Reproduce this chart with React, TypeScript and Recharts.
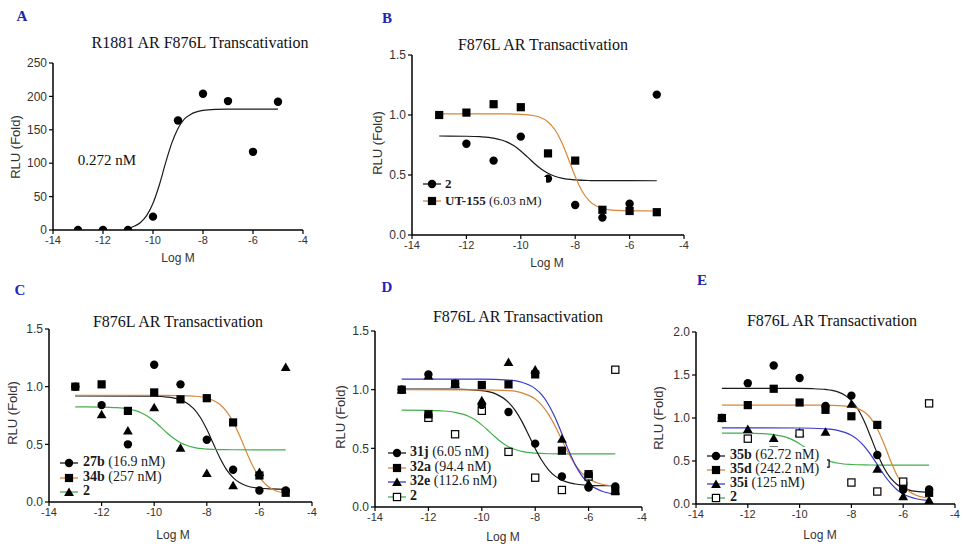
import React from 'react';
import { ComposedChart, Line, Scatter, XAxis, YAxis } from 'recharts';

// ---------- data ----------
const LOG_M = [-13, -12, -11, -10, -9, -8, -7, -6, -5];
const X_TICKS = [-14, -12, -10, -8, -6, -4];
const A_Y_TICKS = [0, 50, 100, 150, 200, 250];
const FOLD_TICKS = [0, 0.5, 1.0, 1.5];
const E_Y_TICKS = [0, 0.5, 1.0, 1.5, 2.0];

// measured points (aligned with LOG_M, null = no point)
const R1881 = [0, 0, 0, 20, 164, 204, 193, 117, 192];
const CMPD_2 = [null, 0.76, 0.62, 0.82, 0.47, 0.25, 0.145, 0.26, 1.17];
const UT155 = [1.0, 1.02, 1.09, 1.065, 0.68, 0.62, 0.21, 0.2, 0.19];
const C27B = [1.0, 0.84, 0.5, 1.19, 1.02, 0.54, 0.28, 0.1, 0.1];
const C34B = [1.0, 1.02, 0.79, 0.95, 0.89, 0.9, 0.69, 0.23, 0.08];
const C31J = [1.0, 1.13, 1.05, 0.87, 0.81, 0.54, 0.26, 0.165, 0.175];
const C32A = [1.0, 0.79, 1.05, 1.04, 1.045, 1.13, 0.48, 0.28, 0.135];
const C32E = [1.0, 1.12, 1.05, 0.91, 1.235, 1.17, 0.58, 0.2, 0.14];
const C35B = [1.0, 1.405, 1.61, 1.465, 1.14, 1.26, 0.57, 0.165, 0.17];
const C35D = [1.0, 1.15, 1.34, 1.18, 1.095, 1.02, 0.92, 0.21, 0.13];
const C35I = [1.0, 0.87, 0.765, 0.83, 0.84, 1.165, 0.41, 0.09, 0.045];

// fitted curves: [logM, value]
const FIT_R1881: [number, number][] = [[-11, 2.7], [-10.75, 5.6], [-10.5, 11.2], [-10.25, 21.8], [-10, 40], [-9.75, 67], [-9.5, 100], [-9.25, 130], [-9, 152], [-8.75, 166], [-8.5, 173], [-8, 179], [-7.5, 180.6], [-7, 181], [-6, 181], [-5, 181]];
const FIT_2: [number, number][] = [[-13, 0.825], [-12, 0.823], [-11.5, 0.819], [-11, 0.807], [-10.5, 0.774], [-10.25, 0.743], [-10, 0.7], [-9.75, 0.649], [-9.5, 0.596], [-9.25, 0.55], [-9, 0.514], [-8.75, 0.49], [-8.5, 0.474], [-8, 0.459], [-7.5, 0.454], [-7, 0.453], [-5, 0.452]];
const FIT_UT155: [number, number][] = [[-13, 1.01], [-11, 1.01], [-10, 1.006], [-9.5, 0.994], [-9, 0.942], [-8.75, 0.879], [-8.5, 0.776], [-8.25, 0.635], [-8, 0.487], [-7.75, 0.367], [-7.5, 0.289], [-7.25, 0.245], [-7, 0.222], [-6.5, 0.205], [-6, 0.201], [-5, 0.2]];
const FIT_27B: [number, number][] = [[-13, 0.92], [-10, 0.917], [-9.5, 0.91], [-9, 0.886], [-8.75, 0.857], [-8.5, 0.81], [-8.25, 0.735], [-8, 0.63], [-7.75, 0.505], [-7.5, 0.382], [-7.25, 0.281], [-7, 0.211], [-6.5, 0.141], [-6, 0.119], [-5.5, 0.113], [-5, 0.11]];
const FIT_34B: [number, number][] = [[-13, 0.925], [-10, 0.925], [-9, 0.923], [-8.5, 0.918], [-8, 0.901], [-7.75, 0.88], [-7.5, 0.845], [-7.25, 0.785], [-7, 0.695], [-6.75, 0.574], [-6.5, 0.438], [-6.25, 0.312], [-6, 0.215], [-5.75, 0.15], [-5.5, 0.11], [-5, 0.075]];
const FIT_31J: [number, number][] = [[-13, 1.005], [-11, 1.004], [-10, 0.992], [-9.5, 0.966], [-9, 0.892], [-8.75, 0.824], [-8.5, 0.73], [-8.25, 0.616], [-8, 0.499], [-7.75, 0.396], [-7.5, 0.317], [-7.25, 0.263], [-7, 0.229], [-6.5, 0.196], [-6, 0.185], [-5, 0.181]];
const FIT_32A: [number, number][] = [[-13, 1.0], [-10, 0.999], [-9, 0.991], [-8.5, 0.973], [-8, 0.92], [-7.75, 0.867], [-7.5, 0.79], [-7.25, 0.688], [-7, 0.57], [-6.75, 0.456], [-6.5, 0.359], [-6.25, 0.288], [-6, 0.241], [-5.5, 0.194], [-5, 0.178]];
const FIT_32E: [number, number][] = [[-13, 1.09], [-10, 1.089], [-9, 1.081], [-8.5, 1.063], [-8, 1.009], [-7.75, 0.955], [-7.5, 0.872], [-7.25, 0.76], [-7, 0.624], [-6.75, 0.483], [-6.5, 0.359], [-6.25, 0.265], [-6, 0.2], [-5.5, 0.134], [-5, 0.111]];
const FIT_35B: [number, number][] = [[-13, 1.345], [-10, 1.344], [-9.5, 1.341], [-9, 1.332], [-8.75, 1.322], [-8.5, 1.301], [-8.25, 1.265], [-8, 1.203], [-7.75, 1.104], [-7.5, 0.958], [-7.25, 0.776], [-7, 0.587], [-6.75, 0.424], [-6.5, 0.306], [-6.25, 0.23], [-6, 0.185], [-5.5, 0.146], [-5, 0.135]];
const FIT_35D: [number, number][] = [[-13, 1.15], [-10, 1.15], [-9, 1.149], [-8.5, 1.145], [-8, 1.13], [-7.75, 1.109], [-7.5, 1.07], [-7.25, 0.997], [-7, 0.876], [-6.75, 0.706], [-6.5, 0.512], [-6.25, 0.339], [-6, 0.217], [-5.75, 0.142], [-5.5, 0.102], [-5, 0.07]];
const FIT_35I: [number, number][] = [[-13, 0.885], [-10, 0.884], [-9.5, 0.881], [-9, 0.874], [-8.75, 0.867], [-8.5, 0.854], [-8.25, 0.833], [-8, 0.799], [-7.75, 0.746], [-7.5, 0.67], [-7.25, 0.571], [-7, 0.458], [-6.75, 0.343], [-6.5, 0.245], [-6.25, 0.169], [-6, 0.116], [-5.5, 0.061], [-5, 0.041]];

// ---------- styles ----------
const BLACK = '#1a1a1a';
const ORANGE = '#d98638';
const BLUE = '#3a3acc';
const GREEN = '#3fb04a';
const LETTER = '#2424b4';
const SERIF = '"Liberation Serif", "Times New Roman", serif';
const SANS = '"Liberation Sans", Arial, sans-serif';

type Kind = 'circle' | 'square' | 'triangle' | 'open';

const toPts = (ys: (number | null)[]) =>
  LOG_M.map((x, i) => ({ x, y: ys[i] })).filter((p) => p.y !== null);
const fitPts = (c: [number, number][]) => c.map(([x, y]) => ({ x, y }));

function MarkerGlyph({ cx, cy, kind }: { cx: number; cy: number; kind: Kind }) {
  if (cx == null || cy == null) return null;
  if (kind === 'circle') return <circle cx={cx} cy={cy} r={4.2} fill="#000" />;
  if (kind === 'square') return <rect x={cx - 4.1} y={cy - 4.1} width={8.2} height={8.2} fill="#000" />;
  if (kind === 'triangle')
    return <polygon points={`${cx},${cy - 4.6} ${cx + 4.9},${cy + 3.9} ${cx - 4.9},${cy + 3.9}`} fill="#000" />;
  return <rect x={cx - 3.6} y={cy - 3.6} width={7.2} height={7.2} fill="#fff" stroke="#000" strokeWidth={1.2} />;
}

type FitDef = { pts: [number, number][]; color: string };
type ScatDef = { ys: (number | null)[]; kind: Kind };

const YW = 50;
const XH = 30;
const MT = 20;
const MR = 10;
const MB = 10;
const Y_TICK = { fill: '#333', fontSize: 12, fontFamily: SANS };
const X_TICK = { fill: '#333', fontSize: 11, fontFamily: SANS };

function Panel({
  rect,
  yDomain,
  yTicks,
  fmt,
  fits,
  scats,
}: {
  rect: [number, number, number, number];
  yDomain: [number, number];
  yTicks: number[];
  fmt: (v: number) => string;
  fits: FitDef[];
  scats: ScatDef[];
}) {
  const [x0, y0, x1, y1] = rect;
  const w = x1 - x0 + YW + MR;
  const h = y1 - y0 + MT + XH + MB;
  return (
    <div style={{ position: 'absolute', left: x0 - YW, top: y0 - MT }}>
      <ComposedChart width={w} height={h} margin={{ top: MT, right: MR, bottom: MB, left: 0 }}>
        <XAxis
          dataKey="x"
          type="number"
          domain={[-14, -4]}
          ticks={X_TICKS}
          interval={0}
          height={XH}
          allowDataOverflow
          axisLine={{ stroke: '#000', strokeWidth: 1.5 }}
          tickLine={{ stroke: '#000', strokeWidth: 1.2 }}
          tickSize={4}
          tickMargin={2}
          tick={X_TICK}
        />
        <YAxis
          type="number"
          domain={yDomain}
          ticks={yTicks}
          interval={0}
          allowDataOverflow
          width={YW}
          tickFormatter={fmt}
          axisLine={{ stroke: '#000', strokeWidth: 1.5 }}
          tickLine={{ stroke: '#000', strokeWidth: 1.2 }}
          tickSize={4}
          tickMargin={2}
          tick={Y_TICK}
        />
        {fits.map((f, i) => (
          <Line
            key={'f' + i}
            data={fitPts(f.pts)}
            dataKey="y"
            type="monotone"
            stroke={f.color}
            strokeWidth={1.2}
            dot={false}
            activeDot={false}
            isAnimationActive={false}
          />
        ))}
        {scats.map((s, i) => (
          <Scatter
            key={'s' + i}
            data={toPts(s.ys)}
            dataKey="y"
            isAnimationActive={false}
            shape={(p: any) => <MarkerGlyph cx={p.cx} cy={p.cy} kind={s.kind} />}
          />
        ))}
      </ComposedChart>
    </div>
  );
}

type LegItem = { kind: Kind; color: string; bold: string; rest: string };

function LegendBlock({
  box,
  lineX,
  textX,
  rows,
  items,
  size,
}: {
  box: [number, number, number, number];
  lineX: number;
  textX: number;
  rows: number[];
  items: LegItem[];
  size: number;
}) {
  return (
    <div
      style={{
        position: 'absolute',
        left: box[0],
        top: box[1],
        width: box[2] - box[0],
        height: box[3] - box[1],
        background: '#fff',
      }}
    >
      {items.map((it, i) => (
        <React.Fragment key={i}>
          <svg
            width={20}
            height={12}
            style={{ position: 'absolute', left: lineX - box[0], top: rows[i] - 6 - box[1] }}
          >
            <line x1={0} y1={6} x2={18} y2={6} stroke={it.color} strokeWidth={1.3} />
            <MarkerGlyph cx={9} cy={6} kind={it.kind} />
          </svg>
          <div
            style={{
              position: 'absolute',
              left: textX - box[0],
              top: rows[i] - box[1],
              transform: 'translateY(-55%)',
              whiteSpace: 'nowrap',
              fontFamily: SERIF,
              fontSize: size,
              color: '#1a1a1a',
              lineHeight: 1,
            }}
          >
            <b>{it.bold}</b>
            {it.rest}
          </div>
        </React.Fragment>
      ))}
    </div>
  );
}

function Txt({
  x,
  y,
  text,
  size,
  font,
  color = '#111',
  bold = false,
  rotate = false,
}: {
  x: number;
  y: number;
  text: string;
  size: number;
  font: string;
  color?: string;
  bold?: boolean;
  rotate?: boolean;
}) {
  return (
    <div
      style={{
        position: 'absolute',
        left: x,
        top: y,
        transform: `translate(-50%, -50%)${rotate ? ' rotate(-90deg)' : ''}`,
        whiteSpace: 'nowrap',
        fontFamily: font,
        fontSize: size,
        fontWeight: bold ? 700 : 400,
        color,
        lineHeight: 1,
      }}
    >
      {text}
    </div>
  );
}

const fmtInt = (v: number) => String(v);
const fmt1 = (v: number) => v.toFixed(1);

export default function App() {
  return (
    <div style={{ position: 'absolute', left: 0, top: 0, width: 963, height: 550, background: '#fff', overflow: 'hidden' }}>
      {/* Panel A */}
      <Panel
        rect={[53, 63, 303, 230]}
        yDomain={[0, 250]}
        yTicks={A_Y_TICKS}
        fmt={fmtInt}
        fits={[{ pts: FIT_R1881, color: BLACK }]}
        scats={[{ ys: R1881, kind: 'circle' }]}
      />
      {/* Panel B */}
      <Panel
        rect={[412, 55, 684, 235]}
        yDomain={[0, 1.5]}
        yTicks={FOLD_TICKS}
        fmt={fmt1}
        fits={[
          { pts: FIT_2, color: BLACK },
          { pts: FIT_UT155, color: ORANGE },
        ]}
        scats={[
          { ys: CMPD_2, kind: 'circle' },
          { ys: UT155, kind: 'square' },
        ]}
      />
      {/* Panel C */}
      <Panel
        rect={[49, 329, 312, 502]}
        yDomain={[0, 1.5]}
        yTicks={FOLD_TICKS}
        fmt={fmt1}
        fits={[
          { pts: FIT_27B, color: BLACK },
          { pts: FIT_34B, color: ORANGE },
          { pts: FIT_2, color: GREEN },
        ]}
        scats={[
          { ys: C27B, kind: 'circle' },
          { ys: C34B, kind: 'square' },
          { ys: CMPD_2, kind: 'triangle' },
        ]}
      />
      {/* Panel D */}
      <Panel
        rect={[375, 331, 642, 507]}
        yDomain={[0, 1.5]}
        yTicks={FOLD_TICKS}
        fmt={fmt1}
        fits={[
          { pts: FIT_2, color: GREEN },
          { pts: FIT_31J, color: BLACK },
          { pts: FIT_32A, color: ORANGE },
          { pts: FIT_32E, color: BLUE },
        ]}
        scats={[
          { ys: CMPD_2, kind: 'open' },
          { ys: C32E, kind: 'triangle' },
          { ys: C32A, kind: 'square' },
          { ys: C31J, kind: 'circle' },
        ]}
      />
      {/* Panel E */}
      <Panel
        rect={[696, 332, 955, 504]}
        yDomain={[0, 2]}
        yTicks={E_Y_TICKS}
        fmt={fmt1}
        fits={[
          { pts: FIT_2, color: GREEN },
          { pts: FIT_35B, color: BLACK },
          { pts: FIT_35D, color: ORANGE },
          { pts: FIT_35I, color: BLUE },
        ]}
        scats={[
          { ys: C35I, kind: 'triangle' },
          { ys: C35B, kind: 'circle' },
          { ys: C35D, kind: 'square' },
          { ys: CMPD_2, kind: 'open' },
        ]}
      />

      {/* panel letters */}
      <Txt x={22} y={16} text="A" size={15} font={SERIF} color={LETTER} bold />
      <Txt x={387} y={18} text="B" size={15} font={SERIF} color={LETTER} bold />
      <Txt x={20} y={290} text="C" size={15} font={SERIF} color={LETTER} bold />
      <Txt x={387} y={287} text="D" size={15} font={SERIF} color={LETTER} bold />
      <Txt x={702} y={280} text="E" size={15} font={SERIF} color={LETTER} bold />

      {/* titles */}
      <Txt x={200} y={43} text="R1881 AR F876L Transcativation" size={16} font={SERIF} />
      <Txt x={543} y={45} text="F876L AR Transactivation" size={16} font={SERIF} />
      <Txt x={178} y={322} text="F876L AR Transactivation" size={16} font={SERIF} />
      <Txt x={518} y={317} text="F876L AR Transactivation" size={16} font={SERIF} />
      <Txt x={832} y={321} text="F876L AR Transactivation" size={16} font={SERIF} />

      {/* axis titles */}
      <Txt x={15} y={147} text="RLU (Fold)" size={13} font={SANS} color="#333" rotate />
      <Txt x={377} y={143} text="RLU (Fold)" size={13} font={SANS} color="#333" rotate />
      <Txt x={12} y={413} text="RLU (Fold)" size={13} font={SANS} color="#333" rotate />
      <Txt x={340} y={417} text="RLU (Fold)" size={13} font={SANS} color="#333" rotate />
      <Txt x={658} y={418} text="RLU (Fold)" size={13} font={SANS} color="#333" rotate />
      <Txt x={178} y={258} text="Log M" size={12} font={SANS} color="#333" />
      <Txt x={547} y={263} text="Log M" size={12} font={SANS} color="#333" />
      <Txt x={173} y={535} text="Log M" size={12} font={SANS} color="#333" />
      <Txt x={503} y={537} text="Log M" size={12} font={SANS} color="#333" />
      <Txt x={820} y={535} text="Log M" size={12} font={SANS} color="#333" />

      {/* annotation */}
      <Txt x={107} y={160} text="0.272 nM" size={15} font={SERIF} />

      {/* legends */}
      <LegendBlock
        box={[420, 177, 546, 209]}
        lineX={423}
        textX={445}
        rows={[184, 201]}
        size={13}
        items={[
          { kind: 'circle', color: BLACK, bold: '2', rest: '' },
          { kind: 'square', color: ORANGE, bold: 'UT-155', rest: ' (6.03 nM)' },
        ]}
      />
      <LegendBlock
        box={[56, 455, 168, 499]}
        lineX={60}
        textX={83}
        rows={[463, 477.5, 492]}
        size={14}
        items={[
          { kind: 'circle', color: BLACK, bold: '27b', rest: ' (16.9 nM)' },
          { kind: 'square', color: ORANGE, bold: '34b', rest: ' (257 nM)' },
          { kind: 'triangle', color: GREEN, bold: '2', rest: '' },
        ]}
      />
      <LegendBlock
        box={[384, 445, 499, 504]}
        lineX={388}
        textX={410}
        rows={[453, 467.5, 482, 497]}
        size={14}
        items={[
          { kind: 'circle', color: BLACK, bold: '31j', rest: ' (6.05 nM)' },
          { kind: 'square', color: ORANGE, bold: '32a', rest: ' (94.4 nM)' },
          { kind: 'triangle', color: BLUE, bold: '32e', rest: ' (112.6 nM)' },
          { kind: 'open', color: GREEN, bold: '2', rest: '' },
        ]}
      />
      <LegendBlock
        box={[703, 447, 827, 503]}
        lineX={707}
        textX={730}
        rows={[456, 470, 484, 498]}
        size={14}
        items={[
          { kind: 'circle', color: BLACK, bold: '35b', rest: ' (62.72 nM)' },
          { kind: 'square', color: ORANGE, bold: '35d', rest: ' (242.2 nM)' },
          { kind: 'triangle', color: BLUE, bold: '35i', rest: ' (125 nM)' },
          { kind: 'open', color: GREEN, bold: '2', rest: '' },
        ]}
      />
    </div>
  );
}
